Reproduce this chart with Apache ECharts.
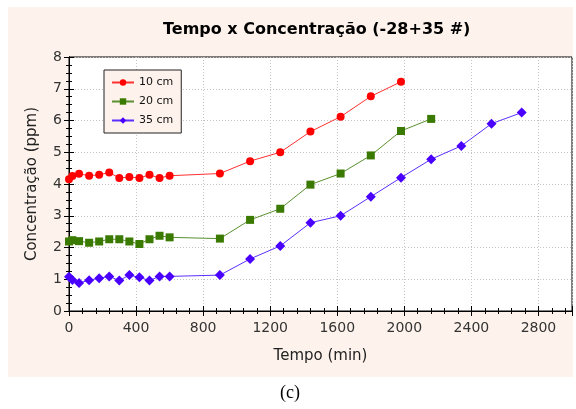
<!DOCTYPE html>
<html>
<head>
<meta charset="utf-8">
<script src="https://cdn.jsdelivr.net/npm/echarts@6/dist/echarts.min.js"></script>
<style>
  html, body { margin: 0; padding: 0; background: #fff; }
  #chart { width: 576px; height: 409px; }
</style>
</head>
<body>
<div id="chart"></div>
<script>
// tempo (min) / concentração (ppm)
var t10 = [0, 20, 60, 120, 180, 240, 300, 360, 420, 480, 540, 600, 900, 1080, 1260, 1440, 1620, 1800, 1980];
var c10 = [4.15, 4.25, 4.32, 4.26, 4.29, 4.36, 4.19, 4.22, 4.19, 4.29, 4.19, 4.26, 4.33, 4.72, 5.0, 5.65, 6.12, 6.76, 7.22];

var t20 = [0, 20, 60, 120, 180, 240, 300, 360, 420, 480, 540, 600, 900, 1080, 1260, 1440, 1620, 1800, 1980, 2160];
var c20 = [2.19, 2.23, 2.2, 2.15, 2.19, 2.26, 2.26, 2.19, 2.11, 2.26, 2.37, 2.32, 2.28, 2.87, 3.22, 3.98, 4.33, 4.9, 5.67, 6.05];

var t35 = [0, 20, 60, 120, 180, 240, 300, 360, 420, 480, 540, 600, 900, 1080, 1260, 1440, 1620, 1800, 1980, 2160, 2340, 2520, 2700];
var c35 = [1.08, 0.98, 0.88, 0.97, 1.03, 1.09, 0.96, 1.13, 1.06, 0.96, 1.09, 1.09, 1.13, 1.64, 2.05, 2.78, 3.0, 3.6, 4.2, 4.78, 5.2, 5.9, 6.25];

var seriesNames = ['10 cm', '20 cm', '35 cm'];

function pairs(t, c) {
  var out = [];
  for (var i = 0; i < t.length; i++) out.push([t[i], c[i]]);
  return out;
}

var chart = echarts.init(document.getElementById('chart'));
var labelFont = 'DejaVu Sans';

var tickStyle = { show: true, inside: true, length: 5, lineStyle: { color: '#000', width: 1 } };

chart.setOption({
  backgroundColor: '#fff',
  animation: false,
  title: {
    text: 'Tempo x Concentração (-28+35 #)',
    left: 158,
    top: 17,
    textStyle: { fontFamily: labelFont, fontSize: 16, fontWeight: 'bold', color: '#000' }
  },
  graphic: [
    { type: 'rect', z: -10, silent: true, shape: { x: 8, y: 7, width: 565, height: 370 }, style: { fill: '#fdf3ec' } },
    { type: 'text', x: 290, y: 393, style: { text: '(c)', font: '18px "Liberation Serif"', fill: '#000', textAlign: 'center', textVerticalAlign: 'middle' } }
  ],
  legend: {
    orient: 'vertical',
    left: 104,
    top: 70,
    padding: [7, 8, 7, 7],
    itemGap: 8,
    itemWidth: 22,
    itemHeight: 8,
    backgroundColor: '#fdf3ec',
    borderColor: '#222',
    borderWidth: 1,
    textStyle: { fontFamily: labelFont, fontSize: 11, color: '#111' },
    data: seriesNames
  },
  grid: {
    left: 69, right: 4, top: 57, bottom: 98,
    show: true, backgroundColor: '#fff', borderColor: '#000', borderWidth: 1
  },
  xAxis: [{
    type: 'value', min: 0, max: 3000, interval: 400,
    name: 'Tempo (min)', nameLocation: 'middle', nameGap: 38,
    nameTextStyle: { fontFamily: labelFont, fontSize: 15, color: '#222' },
    axisLine: { show: true, lineStyle: { color: '#000' } },
    axisTick: tickStyle,
    minorTick: { show: true, splitNumber: 5, length: 3, lineStyle: { color: '#000' } },
    axisLabel: {
      showMaxLabel: false, margin: 10, fontFamily: labelFont, fontSize: 14, color: '#333',
      formatter: function (v) { return String(v); }
    },
    splitLine: { show: true, lineStyle: { color: '#c4c4c4', type: [1, 2] } }
  }, {
    type: 'value', min: 0, max: 3000, interval: 400, position: 'top',
    axisLine: { show: true, lineStyle: { color: '#000' } },
    axisTick: tickStyle,
    minorTick: { show: true, splitNumber: 5, length: 3, lineStyle: { color: '#000' } },
    axisLabel: { show: false },
    splitLine: { show: false }
  }],
  yAxis: [{
    type: 'value', min: 0, max: 8, interval: 1,
    name: 'Concentração (ppm)', nameLocation: 'middle', nameGap: 29,
    nameTextStyle: { fontFamily: labelFont, fontSize: 15, color: '#222' },
    axisLine: { show: true, lineStyle: { color: '#000' } },
    axisTick: tickStyle,
    minorTick: { show: true, splitNumber: 4, length: 3, lineStyle: { color: '#000' } },
    axisLabel: { margin: 7, fontFamily: labelFont, fontSize: 14, color: '#333' },
    splitLine: { show: true, lineStyle: { color: '#c4c4c4', type: [1, 2] } }
  }, {
    type: 'value', min: 0, max: 8, interval: 1, position: 'right',
    axisLine: { show: true, lineStyle: { color: '#000' } },
    axisTick: tickStyle,
    minorTick: { show: true, splitNumber: 4, length: 3, lineStyle: { color: '#000' } },
    axisLabel: { show: false },
    splitLine: { show: false }
  }],
  series: [{
    name: seriesNames[0], type: 'line', data: pairs(t10, c10),
    symbol: 'circle', symbolSize: 8,
    itemStyle: { color: '#ff0000' },
    lineStyle: { color: '#ff3030', width: 1 }
  }, {
    name: seriesNames[1], type: 'line', data: pairs(t20, c20),
    symbol: 'rect', symbolSize: 8,
    itemStyle: { color: '#3a7a00' },
    lineStyle: { color: '#5a9030', width: 1 }
  }, {
    name: seriesNames[2], type: 'line', data: pairs(t35, c35),
    symbol: 'diamond', symbolSize: 10,
    itemStyle: { color: '#4a00ff' },
    lineStyle: { color: '#5a30ff', width: 1 }
  }]
});
</script>
</body>
</html>
